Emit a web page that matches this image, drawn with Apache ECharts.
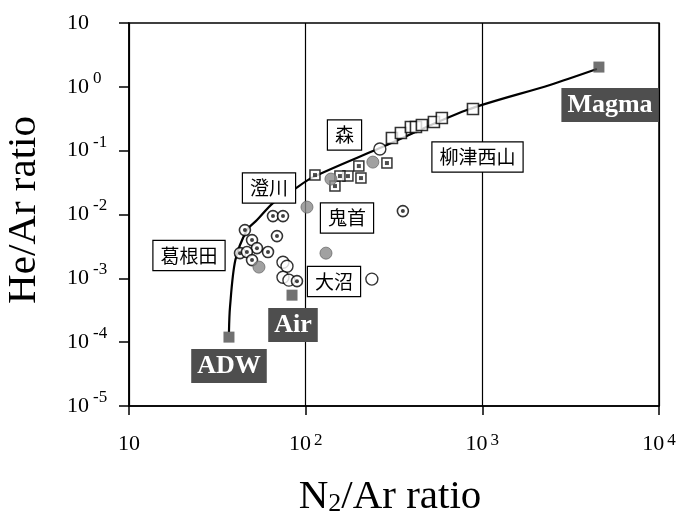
<!DOCTYPE html>
<html>
<head>
<meta charset="utf-8">
<script src="https://cdn.jsdelivr.net/npm/echarts@6/dist/echarts.min.js"></script>
<style>html,body{margin:0;padding:0;background:#fff;}#c{width:680px;height:517px;}</style>
</head>
<body>
<div id="c"></div>
<script>
// End-members: ADW, Air, Magma
const endN2 = [36.8, 83.7, 4570];
const endHe = [1.2e-4, 5.45e-4, 2.04];

// Mixing curve
const curveN2 = [36.8, 37.3, 40.0, 46.5, 53.0, 65.3, 84.8, 110, 263, 818, 2414, 4450];
const curveHe = [1.44e-4, 3.54e-4, 1.93e-3, 5.69e-3, 8.17e-3, 0.0151, 0.0241, 0.0385, 0.110, 0.433, 1.07, 1.9];

// Kakkonda / Sumikawa (circle with dot)
const kakN2 = [65.3, 74.4, 45.3, 68.8, 49.7, 53.0, 61.2, 42.5, 46.5, 49.7, 89.3, 355];
const kakHe = [0.00944, 0.00944, 0.0057, 0.00459, 0.00397, 0.00297, 0.00258, 0.00248, 0.00258, 0.00193, 0.000904, 0.0113];

// Onikobe (grey filled circle)
const oniN2 = [54.4, 101.7, 130.3, 139, 240];
const oniHe = [0.0015, 0.01306, 0.00248, 0.0359, 0.0662];

// Onuma (open circle)
const onuN2 = [74.4, 78.4, 74.4, 80.4, 237, 263];
const onuHe = [0.00179, 0.00155, 0.00104, 0.000937, 0.000972, 0.106];

// Mori (square with dot)
const moriN2 = [112.9, 200, 173.5, 205.6, 288.4, 146.5, 156.3];
const moriHe = [0.0415, 0.0574, 0.04, 0.0372, 0.064, 0.0279, 0.04];

// Yanaizu-Nishiyama (open square)
const yanN2 = [307.8, 346, 394, 421, 455, 532, 590, 885];
const yanHe = [0.1575, 0.1888, 0.2344, 0.2344, 0.252, 0.2806, 0.3244, 0.449];

const zip = (a, b) => a.map((v, i) => [v, b[i]]);

const serif = '"Liberation Serif", "DejaVu Serif", serif';
const cjk = '"Noto Sans CJK JP", "Noto Sans CJK SC", sans-serif';

const chart = echarts.init(document.getElementById('c'), null, {renderer: 'canvas'});

function supLabel(v) {
  const e = Math.round(Math.log10(v));
  if (e === 1) return '{b|10}';
  return '{b|10}{s|' + (e < 0 ? '-' + (-e) : e) + '}';
}

function jpBox(text, cx, cy) {
  return {
    type: 'text', x: cx, y: cy, z: 50,
    style: {
      text: text, font: '19px ' + cjk, fill: '#000',
      align: 'center', verticalAlign: 'middle',
      textAlign: 'center', textVerticalAlign: 'middle',
      backgroundColor: '#fff', borderColor: '#000', borderWidth: 1.2,
      padding: [5, 7]
    }
  };
}
function darkBox(text, cx, cy) {
  return {
    type: 'text', x: cx, y: cy, z: 50,
    style: {
      text: text, font: 'bold 26px ' + serif, fill: '#fff',
      align: 'center', verticalAlign: 'middle',
      textAlign: 'center', textVerticalAlign: 'middle',
      backgroundColor: '#4e4e4e',
      padding: [4, 6]
    }
  };
}

const option = {
  animation: false,
  backgroundColor: '#fff',
  grid: {left: 129, right: 21, top: 23, bottom: 111, show: true, borderColor: '#000', borderWidth: 1.5, containLabel: false},
  xAxis: {
    type: 'log', logBase: 10, min: 10, max: 10000, splitNumber: 3,
    axisLine: {show: true, onZero: false, lineStyle: {color: '#000', width: 1.5}},
    axisTick: {show: true, inside: false, length: 9, lineStyle: {color: '#000', width: 1.5}},
    minorTick: {show: false},
    splitLine: {show: true, lineStyle: {color: '#000', width: 1.2}},
    axisLabel: {
      margin: 26, formatter: supLabel,
      rich: {
        b: {fontSize: 22, fontFamily: serif, color: '#000', lineHeight: 24},
        s: {fontSize: 17, fontFamily: serif, color: '#000', verticalAlign: 'top', lineHeight: 17, padding: [0, 0, 0, 3]}
      }
    }
  },
  yAxis: {
    type: 'log', logBase: 10, min: 1e-5, max: 10, splitNumber: 6,
    axisLine: {show: true, onZero: false, lineStyle: {color: '#000', width: 1.5}},
    axisTick: {show: true, inside: false, length: 10, lineStyle: {color: '#000', width: 1.5}},
    minorTick: {show: false},
    splitLine: {show: false},
    axisLabel: {
      align: 'left', margin: 62, formatter: supLabel,
      rich: {
        b: {fontSize: 22, fontFamily: serif, color: '#000', lineHeight: 34},
        s: {fontSize: 17, fontFamily: serif, color: '#000', verticalAlign: 'top', lineHeight: 17, padding: [0, 0, 0, 4]}
      }
    }
  },
  series: [
    {
      type: 'line', data: zip(curveN2, curveHe), smooth: 0.3,
      showSymbol: false, symbol: 'none', lineStyle: {color: '#000', width: 2.2}, z: 2, silent: true
    },
    {
      type: 'scatter', data: zip(onuN2, onuHe), symbol: 'circle', symbolSize: 12,
      itemStyle: {color: '#fff', borderColor: '#000', borderWidth: 1.4}, z: 3
    },
    {
      type: 'scatter', data: zip(kakN2, kakHe), symbol: 'circle', symbolSize: 11,
      itemStyle: {color: '#fff', borderColor: '#000', borderWidth: 1.6}, z: 4
    },
    {
      type: 'scatter', data: zip(kakN2, kakHe), symbol: 'circle', symbolSize: 4,
      itemStyle: {color: '#111'}, z: 5
    },
    {
      type: 'scatter', data: zip(moriN2, moriHe), symbol: 'rect', symbolSize: 10,
      itemStyle: {color: '#fff', borderColor: '#000', borderWidth: 1.5}, z: 4
    },
    {
      type: 'scatter', data: zip(moriN2, moriHe), symbol: 'rect', symbolSize: 4,
      itemStyle: {color: '#222'}, z: 5
    },
    {
      type: 'scatter', data: zip(yanN2, yanHe), symbol: 'rect', symbolSize: 11,
      itemStyle: {color: '#fff', borderColor: '#000', borderWidth: 1.6}, z: 4
    },
    {
      type: 'scatter', data: zip(oniN2, oniHe), symbol: 'circle', symbolSize: 12,
      itemStyle: {color: '#8a8a8a', borderColor: '#6a6a6a', borderWidth: 1}, z: 6
    },
    {
      type: 'scatter', data: zip(endN2, endHe), symbol: 'rect', symbolSize: 11,
      itemStyle: {color: '#4e4e4e'}, z: 6
    }
  ],
  graphic: [
    jpBox('森', 344.5, 135),
    jpBox('柳津西山', 477.5, 157),
    jpBox('鬼首', 347, 218),
    jpBox('大沼', 334, 281.5),
    jpBox('澄川', 269, 188),
    jpBox('葛根田', 189, 255.5),
    darkBox('Magma', 610, 105),
    darkBox('Air', 293, 325),
    darkBox('ADW', 229, 366),
    {
      type: 'text', x: 24, y: 210, rotation: Math.PI / 2,
      style: {
        text: 'He/Ar ratio', font: '41px ' + serif, fill: '#000',
        align: 'center', verticalAlign: 'middle', textAlign: 'center', textVerticalAlign: 'middle'
      }
    },
    {
      type: 'text', x: 390, y: 497,
      style: {
        text: '{a|N}{s|2}{a|/Ar ratio}',
        align: 'center', verticalAlign: 'middle', textAlign: 'center', textVerticalAlign: 'middle',
        rich: {
          a: {fontSize: 41, fontFamily: serif, fill: '#000', color: '#000', lineHeight: 40},
          s: {fontSize: 26, fontFamily: serif, fill: '#000', color: '#000', lineHeight: 26, verticalAlign: 'bottom'}
        }
      }
    }
  ]
};
chart.setOption(option);
</script>
</body>
</html>
